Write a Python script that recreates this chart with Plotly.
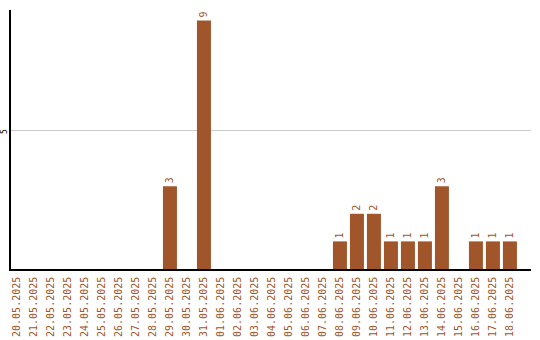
import plotly.graph_objects as go

dates = ["20.05.2025","21.05.2025","22.05.2025","23.05.2025","24.05.2025","25.05.2025",
         "26.05.2025","27.05.2025","28.05.2025","29.05.2025","30.05.2025","31.05.2025",
         "01.06.2025","02.06.2025","03.06.2025","04.06.2025","05.06.2025","06.06.2025",
         "07.06.2025","08.06.2025","09.06.2025","10.06.2025","11.06.2025","12.06.2025",
         "13.06.2025","14.06.2025","15.06.2025","16.06.2025","17.06.2025","18.06.2025"]
values = [0,0,0,0,0,0,0,0,0,3,0,9,0,0,0,0,0,0,0,1,2,2,1,1,1,3,0,1,1,1]
labels = [str(v) if v else "" for v in values]
ytick_vals = [5]
ytick_text = ["5"]

color = "#A0562A"
fig = go.Figure(go.Bar(
    x=list(range(len(dates))), y=values, text=labels,
    textposition="outside", textangle=-90, cliponaxis=False,
    textfont=dict(family="DejaVu Sans Mono", size=10, color=color),
    marker=dict(color=color, line=dict(width=0)), width=14/17,
))
for v, t in zip(ytick_vals, ytick_text):
    fig.add_annotation(x=0, xref="paper", y=v, yref="y", text=t, showarrow=False,
                       textangle=-90, xanchor="center", yanchor="middle", xshift=-6, yshift=-1,
                       font=dict(family="DejaVu Sans Mono", size=8, color="black"))
fig.update_layout(
    width=540, height=340, margin=dict(l=11, r=9, t=10, b=71, autoexpand=False),
    plot_bgcolor="white", paper_bgcolor="white", showlegend=False,
    xaxis=dict(tickmode="array", tickvals=list(range(len(dates))), ticktext=dates,
               tickangle=-90, range=[-0.35, 30.24], showgrid=False, automargin=False,
               showline=True, linecolor="black", linewidth=1.5, ticks="", ticklabelstandoff=2,
               tickfont=dict(family="DejaVu Sans Mono", size=10, color=color)),
    yaxis=dict(range=[0, 9.38], tickvals=ytick_vals, showticklabels=False, automargin=False,
               showgrid=True, gridcolor="#cccccc", gridwidth=1, zeroline=False,
               showline=True, linecolor="black", linewidth=1.5, ticks=""),
)
fig.write_html("out.html")
